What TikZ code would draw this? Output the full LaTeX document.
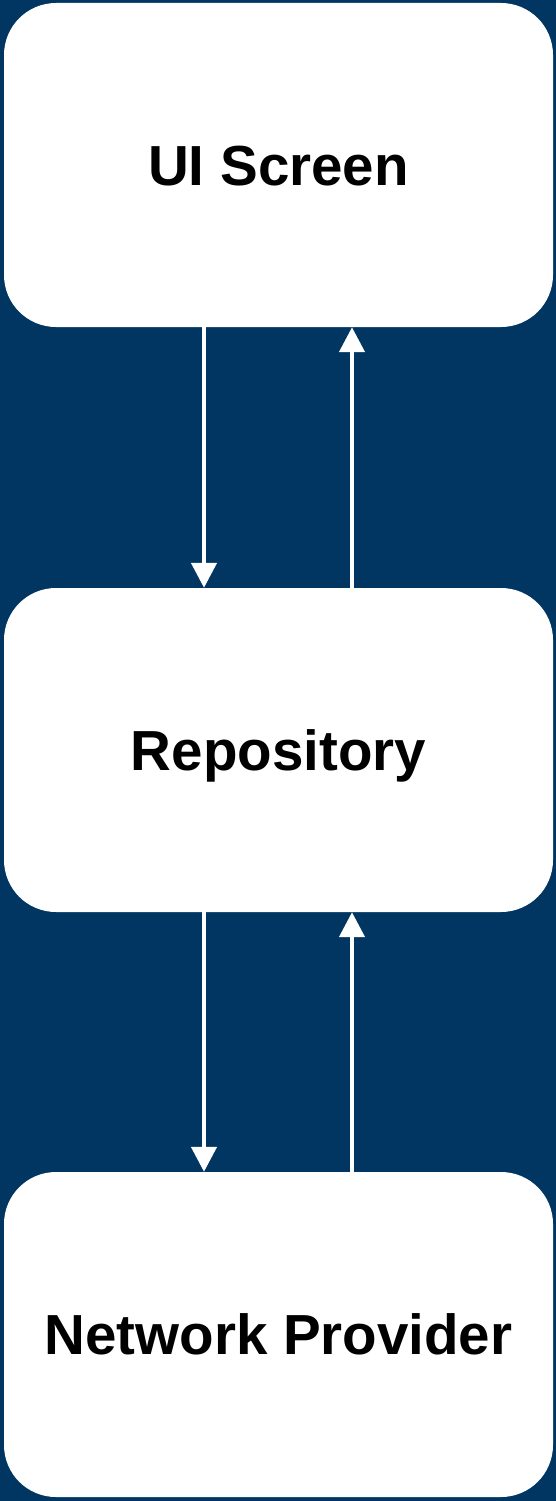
\documentclass[tikz,border=0pt]{standalone}
\usepackage{fontspec}
\setmainfont{Liberation Sans}
\usetikzlibrary{arrows.meta}
\definecolor{bgblue}{RGB}{0,54,97}
\tikzset{
  box/.style={fill=white, rounded corners=52pt, minimum width=549pt, inner sep=0pt,
    font=\fontsize{56.5}{68}\selectfont\bfseries, text=black, text height=40.5pt, text depth=0pt},
  arr/.style={draw=white, line width=4.5pt, -{Triangle[width=25pt,length=25pt]}}
}
\begin{document}
\begin{tikzpicture}[x=1pt,y=-1pt]
\fill[bgblue] (0,0) rectangle (556,1501);
\useasboundingbox (0,0) rectangle (556,1501);
\node[box, minimum height=324pt] (ui) at (278.5,165) {UI Screen};
\node[box, minimum height=324pt] (repo) at (278.5,750) {Repository};
\node[box, minimum height=325pt] (net) at (278.5,1334.5) {Network Provider};
\draw[arr] ([xshift=-74.5pt]ui.south) -- ([xshift=-74.5pt]repo.north);
\draw[arr] ([xshift=73.5pt]repo.north) -- ([xshift=73.5pt]ui.south);
\draw[arr] ([xshift=-74.5pt]repo.south) -- ([xshift=-74.5pt]net.north);
\draw[arr] ([xshift=73.5pt]net.north) -- ([xshift=73.5pt]repo.south);
\end{tikzpicture}
\end{document}
